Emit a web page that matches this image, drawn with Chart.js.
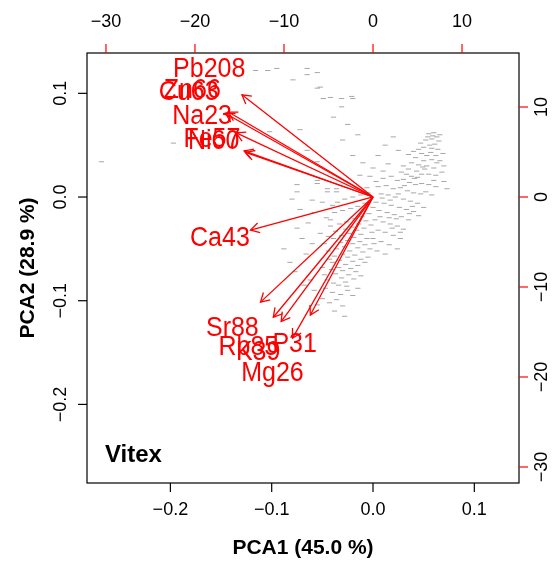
<!DOCTYPE html>
<html>
<head>
<meta charset="utf-8">
<script src="https://cdn.jsdelivr.net/npm/chart.js@4/dist/chart.umd.min.js"></script>
<style>
  body { margin: 0; background: #fff; }
  #wrap { width: 559px; height: 561px; }
</style>
</head>
<body>
<div id="wrap"><canvas id="myChart"></canvas></div>
<script>
// variable names and their loadings (secondary axes, top / right)
var vars = ['Pb208', 'Zn66', 'Cu63', 'Na23', 'Fe57', 'Ni60', 'Ca43', 'Sr88', 'Rb85', 'K39', 'P31', 'Mg26'];
var loadX = [-18.4, -20.3, -20.7, -19.2, -18.1, -17.9, -17.2, -15.8, -14.0, -12.9, -8.8, -11.3];
var loadY = [14.2, 11.8, 11.6, 8.9, 6.4, 6.2, -4.6, -14.6, -16.7, -17.3, -16.4, -19.6];

// sample scores (primary axes, bottom / left)
var scores = [
  [0.055,0.061],[0.060,0.062],[0.063,0.058],[0.058,0.056],[0.052,0.055],[0.065,0.054],[0.061,0.051],[0.056,0.050],
  [0.050,0.048],[0.066,0.060],[0.059,0.059],[0.054,0.058],
  [0.045,0.046],[0.040,0.044],[0.048,0.042],[0.053,0.040],[0.057,0.043],[0.062,0.040],[0.035,0.041],[0.042,0.038],
  [0.050,0.035],[0.058,0.036],[0.066,0.035],[0.038,0.033],[0.045,0.031],[0.053,0.030],[0.060,0.028],[0.030,0.030],
  [0.035,0.027],[0.043,0.025],[0.048,0.022],[0.055,0.022],[0.062,0.021],[0.028,0.024],[0.038,0.020],[0.070,0.030],
  [0.068,0.024],
  [0.010,0.018],[0.018,0.020],[0.024,0.016],[0.030,0.017],[0.036,0.014],[0.042,0.012],[0.048,0.013],[0.055,0.012],
  [0.005,0.010],[0.013,0.011],[0.020,0.008],[0.027,0.009],[0.034,0.006],[0.040,0.004],[0.047,0.003],[0.052,0.005],
  [0.008,0.003],[0.015,0.002],[0.022,0.000],[0.030,-0.002],[0.037,-0.004],[0.044,-0.006],[0.003,-0.005],[0.011,-0.006],
  [0.018,-0.008],[0.026,-0.010],[0.033,-0.012],[0.040,-0.014],[0.006,-0.013],[0.014,-0.015],[0.021,-0.017],[0.028,-0.019],
  [0.035,-0.022],[0.000,-0.010],[0.045,-0.018],[0.050,-0.010],[0.058,0.002],[0.062,0.010],[0.070,0.015],[0.073,0.008],
  [0.002,-0.022],[0.010,-0.024],[0.017,-0.026],[0.024,-0.028],[0.030,-0.031],[0.005,-0.032],[0.012,-0.034],[0.020,-0.037],
  [0.027,-0.040],[0.000,-0.040],[0.008,-0.043],[0.016,-0.046],[0.024,-0.050],[0.004,-0.052],[0.012,-0.055],
  [-0.005,0.004],[-0.012,0.002],[-0.020,0.000],[-0.028,-0.002],[-0.035,-0.005],[-0.008,-0.006],[-0.015,-0.009],[-0.022,-0.011],
  [-0.030,-0.013],[-0.038,-0.015],[-0.004,-0.016],[-0.011,-0.019],[-0.018,-0.021],[-0.026,-0.024],[-0.033,-0.026],[-0.042,-0.028],
  [-0.002,-0.027],[-0.009,-0.030],[-0.016,-0.032],[-0.023,-0.035],[-0.031,-0.037],[-0.039,-0.040],[-0.006,-0.040],[-0.013,-0.043],
  [-0.020,-0.045],[-0.028,-0.048],[-0.036,-0.050],[-0.044,-0.052],[-0.003,-0.050],[-0.010,-0.053],[-0.018,-0.056],[-0.025,-0.058],
  [-0.033,-0.061],[-0.040,-0.063],[-0.008,-0.063],[-0.015,-0.066],[-0.022,-0.069],[-0.030,-0.071],[-0.037,-0.074],[-0.012,-0.076],
  [-0.019,-0.079],[-0.027,-0.082],[-0.034,-0.085],[-0.045,-0.080],[-0.050,-0.068],[-0.048,-0.045],[-0.052,-0.035],[-0.046,-0.020],
  [-0.040,-0.008],[-0.050,-0.005],
  [-0.025,-0.090],[-0.032,-0.094],[-0.040,-0.092],[-0.036,-0.099],[-0.030,-0.105],[-0.043,-0.102],[-0.050,-0.098],[-0.055,-0.104],
  [-0.038,-0.110],[-0.028,-0.115],[-0.020,-0.095],[-0.015,-0.088],[-0.047,-0.088],[-0.058,-0.090],[-0.062,-0.080],
  [-0.075,-0.030],[-0.082,-0.063],[-0.077,-0.072],[-0.066,-0.055],[-0.060,-0.045],[-0.070,-0.040],[-0.064,-0.025],[-0.072,-0.012],
  [-0.080,-0.002],[-0.058,-0.015],[-0.088,-0.050],[-0.068,-0.085],[-0.060,-0.003],[-0.075,0.005],[-0.055,0.013],[-0.036,0.005],
  [-0.045,0.005],
  [-0.116,0.122],[-0.104,0.122],[-0.095,0.124],[-0.065,0.124],[-0.055,0.120],[-0.052,0.106],[-0.049,0.095],[-0.039,0.077],
  [-0.031,0.087],[-0.020,0.095],[-0.079,0.113],[-0.065,0.118],[-0.055,0.105],[-0.042,0.096],[-0.031,0.095],[-0.021,0.097],
  [-0.102,0.063],[-0.072,0.065],[-0.065,0.045],[-0.055,0.034],[-0.075,0.012],[-0.055,0.016],[-0.045,0.008],[-0.036,0.008],
  [-0.010,0.033],[0.000,0.028],[-0.013,0.021],[-0.006,0.009],[-0.020,0.040],[-0.030,0.055],[0.005,0.040],[0.012,0.050],
  [0.020,0.058],[0.025,0.045],[0.015,0.032],[-0.015,0.060],[-0.025,0.070],
  [0.058,0.047],[0.047,0.052],[0.064,0.046],[0.051,0.027],[0.041,0.018],[0.033,0.022],[0.025,0.003],[0.017,-0.003],
  [0.009,-0.001],[0.031,0.011],[0.039,-0.009],[0.023,-0.021],[0.016,-0.020],[0.007,-0.019],[-0.001,-0.034],[-0.007,-0.023],
  [-0.014,-0.026],[-0.021,-0.029],[-0.027,-0.031],[-0.012,-0.036],[-0.019,-0.039],[-0.025,-0.042],[-0.032,-0.044],[-0.008,-0.046],
  [-0.015,-0.049],[-0.023,-0.052],[-0.030,-0.055],[-0.038,-0.057],[-0.005,-0.058],[-0.012,-0.060],[-0.020,-0.062],[-0.027,-0.065],
  [-0.034,-0.068],[-0.041,-0.070],[-0.024,-0.075],[-0.031,-0.078],[-0.017,-0.072],[0.001,-0.045],[0.019,-0.030],[0.027,-0.034],
  [0.044,0.019],[0.049,0.029],[0.063,0.033],[0.069,0.042],[0.060,0.016],[0.036,-0.016],[-0.042,-0.022],[-0.037,-0.033],
  [-0.044,-0.038],[-0.043,-0.060],[-0.048,-0.075],[-0.026,-0.086],[-0.039,-0.083],[0.003,0.015],[-0.003,0.020],[0.010,0.025],
  [-0.268,0.034],[-0.197,0.052],[-0.151,0.050]
];

// tick positions
var ticksX = [-0.2, -0.1, 0.0, 0.1];
var ticksY = [-0.2, -0.1, 0.0, 0.1];
var ticksX2 = [-30, -20, -10, 0, 10];
var ticksY2 = [-30, -20, -10, 0, 10];

var xTitle = 'PCA1 (45.0 %)';
var yTitle = 'PCA2 (28.9 %)';
var panelLabel = 'Vitex';

var arrowScale = 0.8; // arrows drawn to 0.8 of the loading, labels at the loading

function fmt(v, d) {
  var s = Math.abs(v).toFixed(d);
  return v < -1e-9 ? '\u2212' + s : s;
}

var FONT = '"Liberation Sans", Arial, Helvetica, sans-serif';

var datasets = [{
  data: scores.map(function (p) { return { x: p[0], y: p[1] }; }),
  xAxisID: 'x', yAxisID: 'y',
  pointStyle: 'line',
  pointRadius: 2.6,
  borderWidth: 1,
  borderColor: 'rgba(80,80,80,0.5)',
  backgroundColor: 'rgba(80,80,80,0.5)'
}];

vars.forEach(function (v, i) {
  datasets.push({
    data: [{ x: 0, y: 0 }, { x: loadX[i] * arrowScale, y: loadY[i] * arrowScale }],
    xAxisID: 'x2', yAxisID: 'y2',
    showLine: true,
    pointRadius: 0,
    borderColor: '#ff0000',
    borderWidth: 1.3
  });
});

var biplotDecor = {
  id: 'biplotDecor',
  afterDatasetsDraw: function (chart) {
    var ctx = chart.ctx, a = chart.chartArea, s = chart.scales;
    ctx.save();

    // arrow heads + labels
    ctx.strokeStyle = '#ff0000';
    ctx.lineWidth = 1.3;
    vars.forEach(function (v, i) {
      var x0 = s.x2.getPixelForValue(0), y0 = s.y2.getPixelForValue(0);
      var x1 = s.x2.getPixelForValue(loadX[i] * arrowScale), y1 = s.y2.getPixelForValue(loadY[i] * arrowScale);
      var ang = Math.atan2(y1 - y0, x1 - x0);
      var len = 10, spread = Math.PI / 6;
      ctx.beginPath();
      ctx.moveTo(x1 - len * Math.cos(ang - spread), y1 - len * Math.sin(ang - spread));
      ctx.lineTo(x1, y1);
      ctx.lineTo(x1 - len * Math.cos(ang + spread), y1 - len * Math.sin(ang + spread));
      ctx.stroke();
    });
    ctx.fillStyle = '#ff0000';
    ctx.font = '25px ' + FONT;
    ctx.textAlign = 'center';
    ctx.textBaseline = 'middle';
    vars.forEach(function (v, i) {
      ctx.save();
      ctx.translate(s.x2.getPixelForValue(loadX[i]), s.y2.getPixelForValue(loadY[i]));
      ctx.scale(1, 1.1);
      ctx.fillText(v, 0, 0);
      ctx.restore();
    });

    // box
    ctx.strokeStyle = '#000';
    ctx.lineWidth = 1.2;
    ctx.strokeRect(a.left, a.top, a.right - a.left, a.bottom - a.top);

    var tl = 9;
    ctx.font = '18px ' + FONT;
    ctx.fillStyle = '#000';

    // bottom axis
    ctx.strokeStyle = '#000';
    ticksX.forEach(function (t) {
      var px = s.x.getPixelForValue(t);
      ctx.beginPath(); ctx.moveTo(px, a.bottom); ctx.lineTo(px, a.bottom + tl); ctx.stroke();
      ctx.fillText(fmt(t, 1), px, a.bottom + 27);
    });
    // left axis
    ticksY.forEach(function (t) {
      var py = s.y.getPixelForValue(t);
      ctx.beginPath(); ctx.moveTo(a.left, py); ctx.lineTo(a.left - tl, py); ctx.stroke();
      ctx.save(); ctx.translate(a.left - 26, py); ctx.rotate(-Math.PI / 2);
      ctx.fillText(fmt(t, 1), 0, 0); ctx.restore();
    });
    // top axis (red ticks)
    ctx.strokeStyle = '#ff0000';
    ticksX2.forEach(function (t) {
      var px = s.x2.getPixelForValue(t);
      ctx.beginPath(); ctx.moveTo(px, a.top); ctx.lineTo(px, a.top - tl); ctx.stroke();
      ctx.fillText(fmt(t, 0), px, a.top - 31);
    });
    // right axis (red ticks)
    ticksY2.forEach(function (t) {
      var py = s.y2.getPixelForValue(t);
      ctx.beginPath(); ctx.moveTo(a.right, py); ctx.lineTo(a.right + tl, py); ctx.stroke();
      ctx.save(); ctx.translate(a.right + 23, py); ctx.rotate(-Math.PI / 2);
      ctx.fillText(fmt(t, 0), 0, 0); ctx.restore();
    });

    // titles
    ctx.font = 'bold 21px ' + FONT;
    ctx.fillText(xTitle, (a.left + a.right) / 2, 548);
    ctx.save(); ctx.translate(28, (a.top + a.bottom) / 2); ctx.rotate(-Math.PI / 2);
    ctx.fillText(yTitle, 0, 0); ctx.restore();

    ctx.font = 'bold 24px ' + FONT;
    ctx.textAlign = 'left';
    ctx.fillText(panelLabel, a.left + 18, 455);

    ctx.restore();
  }
};

var myChart = new Chart(document.getElementById('myChart'), {
  type: 'scatter',
  data: { datasets: datasets },
  options: {
    responsive: true,
    maintainAspectRatio: false,
    animation: false,
    layout: { padding: { left: 87, right: 40, top: 53, bottom: 78 } },
    plugins: { legend: { display: false }, tooltip: { enabled: false } },
    scales: {
      x: { type: 'linear', position: 'bottom', min: -0.2823, max: 0.1441, display: false },
      y: { type: 'linear', position: 'left', min: -0.2758, max: 0.1389, display: false },
      x2: { type: 'linear', position: 'top', min: -32.13, max: 16.40, display: false },
      y2: { type: 'linear', position: 'right', min: -31.78, max: 16.0, display: false }
    }
  },
  plugins: [biplotDecor]
});
</script>
</body>
</html>
